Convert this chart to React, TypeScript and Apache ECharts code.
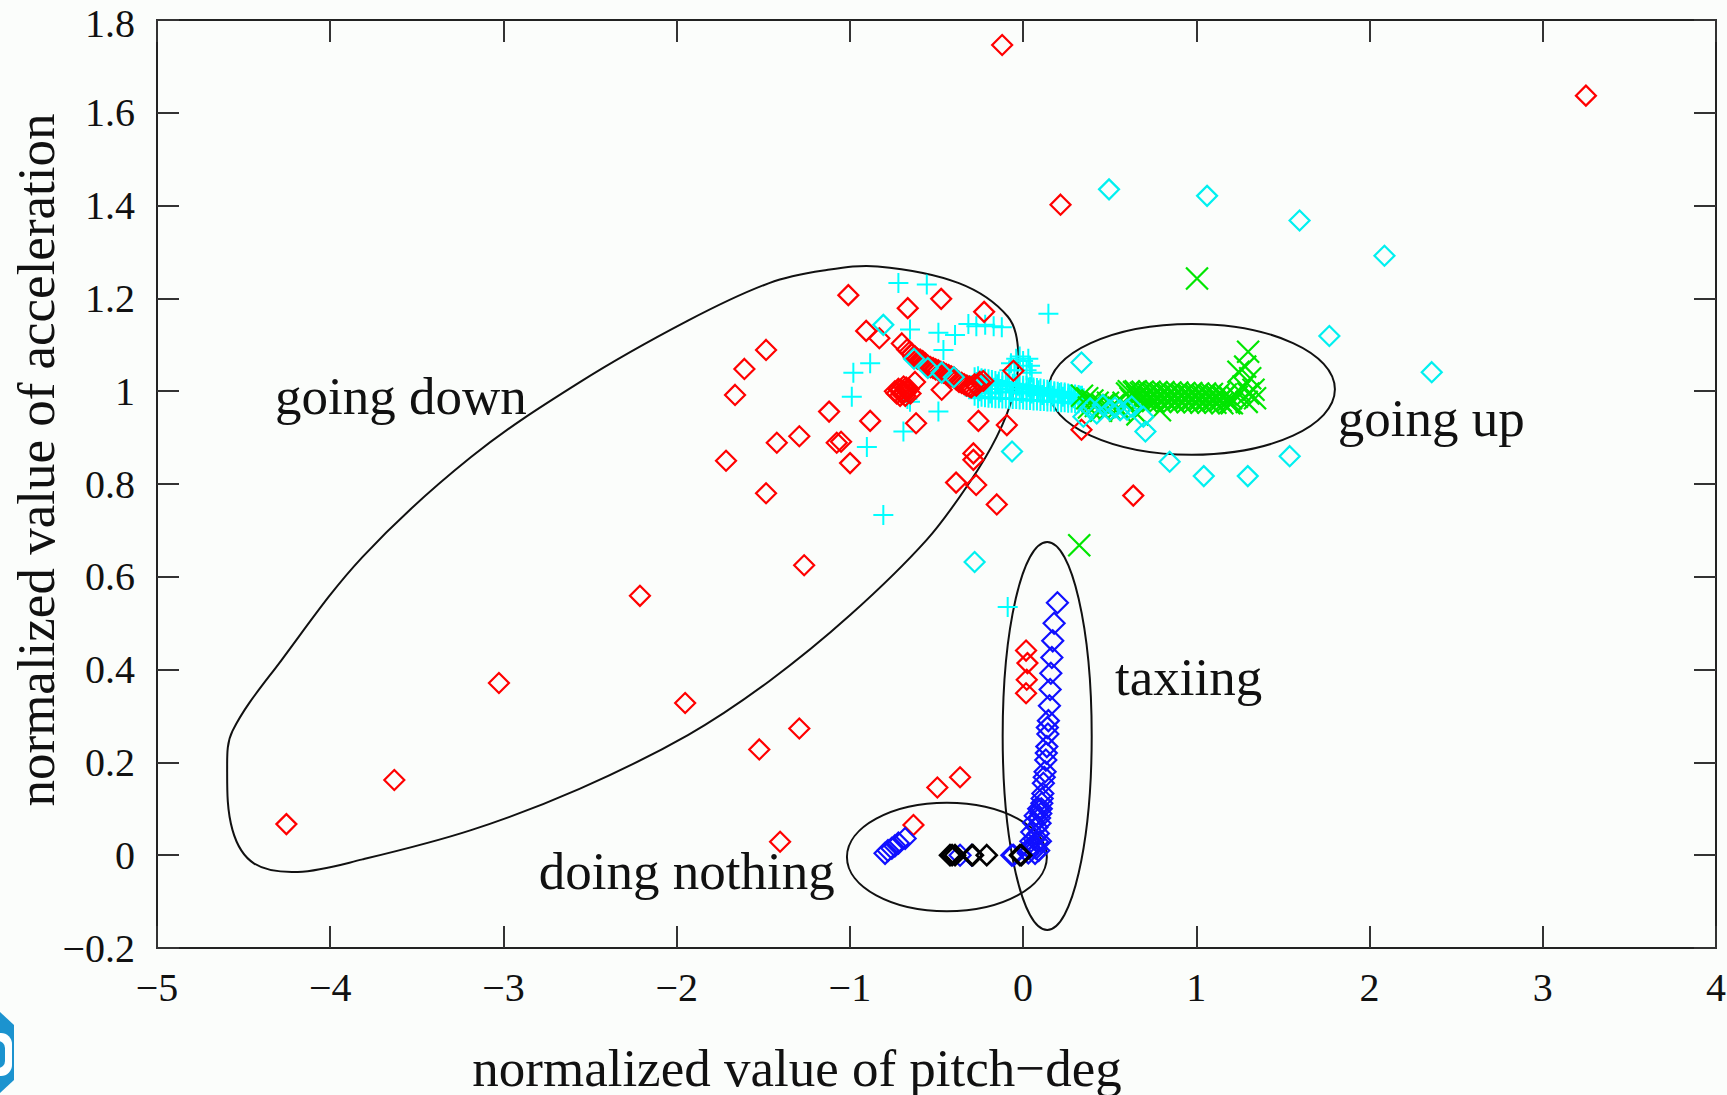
import React, { useEffect, useRef } from "react";
import * as echarts from "echarts";

// ---------- axis settings ----------
const X_MIN = -5, X_MAX = 4, X_STEP = 1;
const Y_MIN = -0.2, Y_MAX = 1.8, Y_STEP = 0.2;
const X_TITLE = "normalized value of pitch\u2212deg";
const Y_TITLE = "normalized value of acceleration";

// ---------- data ----------
const redDiamonds: number[][] = [
  [-4.253, 0.067], [-3.63, 0.162], [-3.026, 0.371], [-2.212, 0.559], [-1.951, 0.328],
  [-1.264, 0.625], [-1.523, 0.228], [-1.292, 0.273], [-1.403, 0.029], [-0.495, 0.146],
  [-0.364, 0.168], [-0.633, 0.065],
  [0.017, 0.441], [0.025, 0.414], [0.021, 0.378], [0.017, 0.349],
  [-0.121, 1.746], [3.249, 1.637], [0.216, 1.402], [0.337, 0.917], [0.636, 0.775],
  [-1.009, 1.207], [-0.666, 1.179], [-0.473, 1.199], [-0.225, 1.171], [-0.906, 1.13],
  [-0.83, 1.114], [-0.7, 1.103], [-0.633, 1.074], [-0.624, 1.02], [-0.47, 1.003],
  [-0.258, 0.936], [-0.094, 0.927], [-0.618, 0.931], [-0.883, 0.936], [-1.12, 0.956],
  [-1.051, 0.891], [-1.076, 0.889], [-0.999, 0.845], [-1.292, 0.903], [-1.422, 0.889],
  [-1.715, 0.85], [-1.484, 0.78], [-1.663, 0.992], [-1.609, 1.048], [-1.484, 1.089],
  [-0.287, 0.866], [-0.287, 0.852], [-0.387, 0.803], [-0.271, 0.798], [-0.152, 0.756],
  [-0.056, 1.044],
  // dense blob
  [-0.74, 1.0], [-0.72, 1.005], [-0.7, 0.995], [-0.69, 1.01], [-0.68, 0.99],
  [-0.67, 1.0], [-0.66, 1.005], [-0.71, 0.99], [-0.65, 0.995], [-0.73, 0.995],
  [-0.705, 1.003], [-0.685, 0.998], [-0.675, 1.008],
  // trail
  [-0.67, 1.09], [-0.64, 1.08], [-0.61, 1.07], [-0.58, 1.065], [-0.55, 1.055],
  [-0.52, 1.05], [-0.49, 1.045], [-0.46, 1.04], [-0.43, 1.035], [-0.4, 1.03],
  [-0.37, 1.02], [-0.34, 1.015], [-0.31, 1.01], [-0.28, 1.015], [-0.25, 1.02],
  [-0.655, 1.085], [-0.625, 1.075], [-0.595, 1.068], [-0.565, 1.06], [-0.535, 1.052],
  [-0.505, 1.047], [-0.475, 1.042], [-0.445, 1.037], [-0.415, 1.032], [-0.385, 1.025],
  [-0.355, 1.018], [-0.325, 1.012], [-0.3, 1.008], [-0.27, 1.012], [-0.23, 1.022],
];

const cyanDiamonds: number[][] = [
  [0.496, 1.435], [1.062, 1.421], [1.596, 1.368], [2.086, 1.292], [1.768, 1.119],
  [2.359, 1.041], [0.337, 1.062], [0.706, 0.913], [0.846, 0.848], [1.043, 0.817],
  [1.297, 0.817], [1.539, 0.86], [-0.064, 0.87], [-0.28, 0.632], [-0.807, 1.143],
  [0.348, 0.945], [0.425, 0.952], [0.5, 0.959], [0.56, 0.959], [0.627, 0.967],
  [0.694, 0.945], [0.387, 0.963], [0.46, 0.97], [0.53, 0.965], [0.6, 0.96],
  [-0.63, 1.07], [-0.55, 1.05], [-0.47, 1.04], [-0.4, 1.03],
];

const cyanPlus: number[][] = [
  [-0.72, 1.233], [-0.556, 1.23], [-0.653, 1.133], [-0.489, 1.126], [-0.393, 1.121],
  [-0.316, 1.145], [-0.219, 1.143], [-0.123, 1.138], [-0.27, 1.14], [-0.17, 1.14],
  [-0.46, 1.089], [-0.883, 1.06], [-0.98, 1.04], [-0.989, 0.988], [-0.653, 0.977],
  [-0.489, 0.956], [-0.691, 0.913], [-0.902, 0.88], [-0.807, 0.733], [0.146, 1.167],
  [-0.089, 0.535], [-0.668, 0.983],
  // burst
  [-0.07, 1.06], [-0.04, 1.07], [0.0, 1.065], [0.04, 1.055], [0.05, 1.04],
  [-0.05, 1.045], [0.02, 1.045], [-0.02, 1.075], [0.03, 1.07], [-0.08, 1.045],
  // dense band, middle row
  [-0.27, 1.02], [-0.25, 1.0], [-0.24, 1.025], [-0.22, 1.005], [-0.21, 1.015],
  [-0.19, 0.995], [-0.18, 1.02], [-0.16, 1.005], [-0.15, 1.015], [-0.13, 0.998],
  [-0.12, 1.012], [-0.1, 1.004], [-0.09, 1.018], [-0.07, 0.998], [-0.06, 1.01],
  [-0.04, 1.0], [-0.03, 1.012], [-0.01, 0.996], [0.0, 1.006], [0.02, 0.998],
  [0.03, 1.008], [0.05, 0.995], [0.06, 1.004], [0.08, 0.994], [0.09, 1.002],
  [0.11, 0.992], [0.12, 1.0], [0.14, 0.991], [0.15, 0.999], [0.17, 0.99],
  [0.18, 0.997], [0.2, 0.989], [0.21, 0.996], [0.23, 0.988], [0.24, 0.994],
  [0.26, 0.986], [0.27, 0.993], [0.29, 0.985], [0.3, 0.991], [0.32, 0.984],
  [0.33, 0.99], [0.35, 0.985],
  // dense band, upper edge
  [-0.28, 1.03], [-0.26, 1.032], [-0.24, 1.028], [-0.22, 1.027], [-0.2, 1.026],
  [-0.18, 1.024], [-0.16, 1.022], [-0.14, 1.021], [-0.12, 1.02], [-0.1, 1.018],
  [-0.08, 1.017], [-0.06, 1.016], [-0.04, 1.015], [-0.02, 1.013], [0.0, 1.012],
  [0.02, 1.011], [0.04, 1.01], [0.06, 1.008], [0.08, 1.007], [0.1, 1.006],
  [0.12, 1.004], [0.14, 1.003], [0.16, 1.002], [0.18, 1.0], [0.2, 0.999],
  [0.22, 0.998], [0.24, 0.997], [0.26, 0.995], [0.28, 0.994], [0.3, 0.993],
  [0.32, 0.992], [0.34, 0.99],
  // dense band, lower edge
  [-0.28, 0.99], [-0.26, 0.985], [-0.24, 0.988], [-0.22, 0.987], [-0.2, 0.986],
  [-0.18, 0.986], [-0.16, 0.985], [-0.14, 0.985], [-0.12, 0.984], [-0.1, 0.984],
  [-0.08, 0.983], [-0.06, 0.983], [-0.04, 0.983], [-0.02, 0.982], [0.0, 0.982],
  [0.02, 0.981], [0.04, 0.981], [0.06, 0.98], [0.08, 0.98], [0.1, 0.979],
  [0.12, 0.979], [0.14, 0.978], [0.16, 0.978], [0.18, 0.977], [0.2, 0.977],
  [0.22, 0.976], [0.24, 0.976], [0.26, 0.975], [0.28, 0.975], [0.3, 0.974],
  [0.32, 0.974], [0.34, 0.975],
];

const greenCross: number[][] = [
  [1.004, 1.243], [0.324, 0.668], [1.299, 1.085],
  [1.243, 1.042], [1.282, 1.053], [1.311, 1.028], [1.33, 1.003], [1.272, 1.01],
  [1.234, 0.988], [1.339, 0.985], [1.205, 0.974], [1.291, 0.977], [1.25, 1.0], [1.3, 0.995],
  [0.34, 0.99], [0.37, 0.985], [0.4, 0.98], [0.43, 0.975], [0.46, 0.97], [0.49, 0.975],
  [0.52, 0.97], [0.55, 0.965], [0.58, 0.975], [0.79, 0.959], [0.66, 0.95], [0.38, 0.965],
  [0.45, 0.958], [0.5, 0.962], [0.56, 0.958], [0.42, 0.968],
  // band, middle
  [0.6, 0.995], [0.62, 0.985], [0.64, 0.998], [0.66, 0.988], [0.68, 0.996], [0.7, 0.986],
  [0.72, 0.995], [0.74, 0.985], [0.76, 0.994], [0.78, 0.984], [0.8, 0.993], [0.82, 0.984],
  [0.84, 0.993], [0.86, 0.983], [0.88, 0.992], [0.9, 0.983], [0.92, 0.992], [0.94, 0.982],
  [0.96, 0.991], [0.98, 0.982], [1.0, 0.991], [1.02, 0.981], [1.04, 0.99], [1.06, 0.981],
  [1.08, 0.99], [1.1, 0.98], [1.12, 0.989], [1.14, 0.98], [1.16, 0.988], [1.18, 0.979],
  [1.2, 0.985],
  // band, upper and lower edges
  [0.61, 1.0], [0.65, 1.0], [0.69, 0.999], [0.73, 0.999], [0.77, 0.998], [0.81, 0.998],
  [0.85, 0.997], [0.89, 0.997], [0.93, 0.996], [0.97, 0.996], [1.01, 0.995], [1.05, 0.995],
  [1.09, 0.994], [1.13, 0.994], [1.17, 0.993],
  [0.63, 0.98], [0.67, 0.98], [0.71, 0.979], [0.75, 0.979], [0.79, 0.978], [0.83, 0.978],
  [0.87, 0.977], [0.91, 0.977], [0.95, 0.976], [0.99, 0.976], [1.03, 0.975], [1.07, 0.975],
  [1.11, 0.975], [1.15, 0.974], [1.19, 0.974],
];

const blueDiamonds: number[][] = [
  [0.198, 0.544], [0.179, 0.5], [0.171, 0.462], [0.166, 0.426], [0.16, 0.392],
  [0.156, 0.357], [0.152, 0.322], [0.146, 0.29], [0.143, 0.261], [0.137, 0.234],
  [0.131, 0.205], [0.127, 0.18], [0.117, 0.155], [0.114, 0.133], [0.108, 0.112],
  [0.102, 0.09], [0.098, 0.069], [0.088, 0.047], [0.083, 0.029], [0.075, 0.015],
  [0.069, 0.004],
  [0.14, 0.275], [0.134, 0.22], [0.122, 0.168], [0.11, 0.122], [0.105, 0.1], [0.095, 0.08],
  [0.06, 0.07], [0.05, 0.05], [0.045, 0.03], [0.035, 0.015], [0.03, 0.005], [0.09, 0.01],
  [0.1, 0.03], [0.065, 0.035], [0.055, 0.02], [0.08, 0.06], [0.07, 0.085], [0.09, 0.1],
  [-0.065, 0.0], [-0.056, 0.0], [-0.296, 0.0], [-0.364, 0.0],
  [-0.797, 0.004], [-0.758, 0.015], [-0.72, 0.026], [-0.681, 0.036], [-0.74, 0.02], [-0.78, 0.01],
];

const blackDiamonds: number[][] = [
  [-0.422, 0.0], [-0.41, 0.0], [-0.393, 0.0], [-0.296, 0.0], [-0.29, 0.0],
  [-0.21, 0.0], [-0.018, 0.0], [-0.01, 0.0],
];

// ellipses: [cx, cy, rx, ry] in data units
const ellipses: number[][] = [
  [0.974, 1.004, 0.826, 0.141], // going up
  [0.139, 0.257, 0.257, 0.418], // taxiing
  [-0.44, -0.004, 0.577, 0.117], // doing nothing
];

// outline of the "going down" region
const goingDownX = [
  -0.84, -0.371, -0.089, -0.027, -0.058, -0.152, -0.308, -0.558, -0.997, -1.466,
  -1.935, -2.561, -3.187, -3.813, -4.188, -4.439, -4.564, -4.595, -4.564, -4.282,
  -3.813, -3.187, -2.561, -1.935, -1.466, -1.153,
];
const goingDownY = [
  1.269, 1.233, 1.161, 1.081, 0.992, 0.902, 0.804, 0.679, 0.518, 0.375,
  0.259, 0.143, 0.054, -0.009, -0.036, -0.018, 0.054, 0.188, 0.268, 0.42,
  0.643, 0.858, 1.019, 1.152, 1.233, 1.26,
];

// annotations: [x, y] (left, middle) and text
const labelX = [-4.319, 1.816, 0.531, -2.796];
const labelY = [0.99, 0.943, 0.383, -0.034];
const labelText = ["going down", "going up", "taxiing", "doing nothing"];

const SERIF = "'Liberation Serif', 'DejaVu Serif', serif";
const PLUS = "path://M0,-10L0,10M-10,0L10,0";
const CROSS = "path://M-10,-10L10,10M10,-10L-10,10";
const BIG = 53;

const fmt = (v: number) => String(Math.round(v * 10) / 10).replace("-", "\u2212");
const fmtY = (v: number) => (Math.abs(v - Y_MAX) < 1e-9 ? "{top|" + fmt(v) + "}" : fmt(v));

export default function App() {
  const ref = useRef<HTMLDivElement>(null);

  useEffect(() => {
    if (!ref.current) return;
    const chart = echarts.init(ref.current, null, { renderer: "svg" });

    const axisCommon = {
      type: "value" as const,
      axisLine: { show: true, onZero: false, lineStyle: { color: "#222", width: 2 } },
      axisTick: { show: true, inside: true, length: 22, lineStyle: { color: "#333", width: 2 } },
      splitLine: { show: false },
    };

    const scatter = (data: number[][], symbol: string, size: number, color: string, width: number) => ({
      type: "scatter",
      data,
      symbol,
      symbolSize: size,
      silent: true,
      itemStyle: { color: "rgba(0,0,0,0)", borderColor: color, borderWidth: width, opacity: 1 },
    });

    const tickLabel = {
      show: true,
      margin: 22,
      color: "#111",
      fontSize: 40,
      lineHeight: 34,
      fontFamily: SERIF,
      formatter: fmt,
    };

    const option: any = {
      animation: false,
      backgroundColor: "#fbfdfb",
      grid: {
        left: 157, right: 11, top: 20, bottom: 147,
        containLabel: false,
        outerBoundsMode: "none",
      },
      xAxis: [
        { ...axisCommon, position: "bottom", min: X_MIN, max: X_MAX, interval: X_STEP, axisLabel: tickLabel },
        { ...axisCommon, position: "top", min: X_MIN, max: X_MAX, interval: X_STEP, axisLabel: { show: false } },
      ],
      yAxis: [
        {
          ...axisCommon,
          position: "left",
          min: Y_MIN, max: Y_MAX, interval: Y_STEP,
          axisLabel: {
            ...tickLabel,
            formatter: fmtY,
            rich: {
              top: {
                fontSize: 40,
                lineHeight: 34,
                fontFamily: SERIF,
                color: "#111",
                padding: [6, 0, 0, 0],
              },
            },
          },
        },
        { ...axisCommon, position: "right", min: Y_MIN, max: Y_MAX, interval: Y_STEP, axisLabel: { show: false } },
      ],
      series: [
        {
          type: "custom",
          silent: true,
          data: [[goingDownX[0], goingDownY[0]]],
          renderItem: (_p: any, api: any) => {
            const pts = goingDownX.map((x, i) => api.coord([x, goingDownY[i]]));
            return {
              type: "polygon",
              shape: { points: pts, smooth: 0.35 },
              style: { fill: "none", stroke: "#111", lineWidth: 2 },
            };
          },
        },
        {
          type: "custom",
          silent: true,
          data: ellipses,
          encode: { x: 0, y: 1 },
          renderItem: (_p: any, api: any) => {
            const c = api.coord([api.value(0), api.value(1)]);
            const s = api.size([api.value(2), api.value(3)]);
            return {
              type: "ellipse",
              shape: { cx: c[0], cy: c[1], rx: s[0], ry: s[1] },
              style: { fill: "none", stroke: "#111", lineWidth: 2 },
            };
          },
        },
        {
          type: "custom",
          silent: true,
          data: labelX.map((x, i) => [x, labelY[i], i]),
          encode: { x: 0, y: 1 },
          renderItem: (_p: any, api: any) => {
            const c = api.coord([api.value(0), api.value(1)]);
            const idx = api.value(2);
            return {
              type: "text",
              x: c[0],
              y: c[1],
              style: {
                text: labelText[idx],
                fill: "#111",
                fontSize: BIG,
                fontFamily: SERIF,
                align: "left",
                verticalAlign: "middle",
                textAlign: "left",
                textVerticalAlign: "middle",
              },
            };
          },
        },
        scatter(cyanPlus, PLUS, 20, "#00ffff", 2),
        scatter(redDiamonds, "diamond", 20, "#ff0000", 2.2),
        scatter(greenCross, CROSS, 22, "#00e600", 2.2),
        scatter(cyanDiamonds, "diamond", 20, "#00f0f0", 2.2),
        scatter(blueDiamonds, "diamond", 21, "#1010ff", 2.2),
        scatter(blackDiamonds, "diamond", 20, "#000000", 2.6),
      ],
      graphic: [
        {
          type: "text",
          x: 797,
          y: 1094,
          style: {
            text: X_TITLE,
            fill: "#111",
            fontSize: BIG,
            fontFamily: SERIF,
            textAlign: "center",
            textVerticalAlign: "bottom",
          },
        },
        {
          type: "text",
          x: 36,
          y: 460,
          rotation: Math.PI / 2,
          style: {
            text: Y_TITLE,
            fill: "#111",
            fontSize: BIG,
            fontFamily: SERIF,
            textAlign: "center",
            textVerticalAlign: "middle",
          },
        },
        {
          type: "polygon",
          shape: { points: [[0, 1012], [14, 1025], [14, 1080], [0, 1093]] },
          style: { fill: "#1c93cf" },
        },
        {
          type: "rect",
          shape: { x: -10, y: 1033, width: 22, height: 43, r: [0, 11, 11, 0] },
          style: { fill: "#ffffff" },
        },
        {
          type: "rect",
          shape: { x: -10, y: 1041, width: 15, height: 27, r: [0, 7, 7, 0] },
          style: { fill: "#1c93cf" },
        },
      ],
    };

    chart.setOption(option);
    return () => chart.dispose();
  }, []);

  return (
    <div
      ref={ref}
      style={{ position: "absolute", left: 0, top: 0, width: 1727, height: 1095 }}
    />
  );
}
